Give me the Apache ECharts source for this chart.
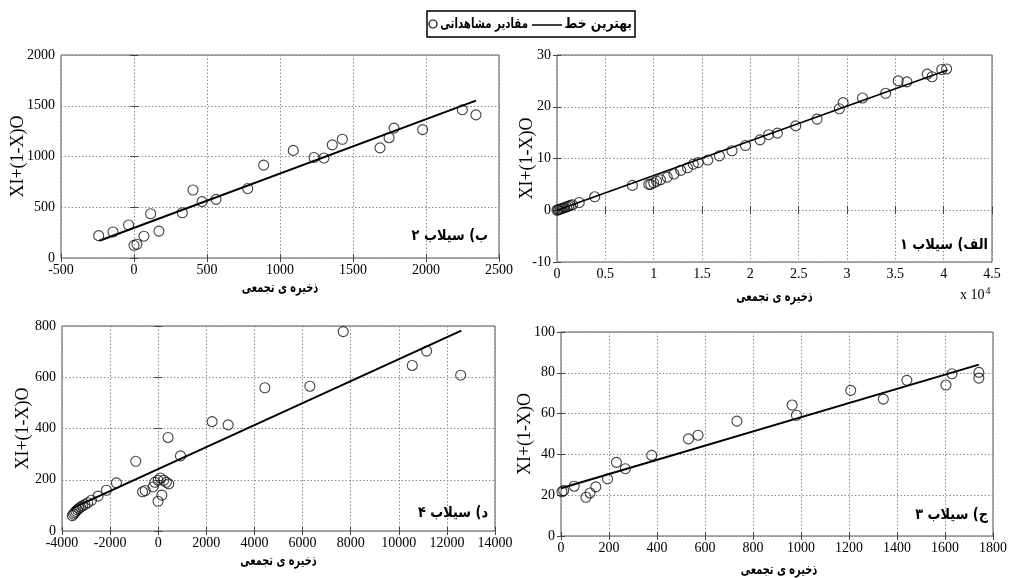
<!DOCTYPE html>
<html>
<head>
<meta charset="utf-8">
<script src="https://cdn.jsdelivr.net/npm/echarts@6/dist/echarts.min.js"></script>
<style>
  html, body { margin: 0; padding: 0; background: #fff; }
  #chart { width: 1010px; height: 578px; }
</style>
</head>
<body>
<div id="chart"></div>
<script>
// Flood 1 (x in units of 10^4)
const flood1X = [0.00, 0.01, 0.02, 0.035, 0.05, 0.065, 0.08, 0.10, 0.12, 0.14, 0.16, 0.23, 0.39, 0.78,
  0.95, 0.97, 1.00, 1.03, 1.07, 1.14, 1.21, 1.28, 1.35, 1.41, 1.46, 1.56, 1.68, 1.81, 1.95, 2.10,
  2.19, 2.28, 2.47, 2.69, 2.92, 2.96, 3.16, 3.40, 3.53, 3.62, 3.83, 3.88, 3.98, 4.03];
const flood1Y = [0.0, 0.1, 0.15, 0.25, 0.35, 0.4, 0.55, 0.65, 0.8, 0.95, 1.05, 1.5, 2.6, 4.8,
  5.0, 5.0, 5.3, 5.6, 5.9, 6.4, 7.0, 7.7, 8.2, 8.9, 9.2, 9.7, 10.5, 11.5, 12.5, 13.6,
  14.6, 14.9, 16.3, 17.6, 19.6, 20.8, 21.7, 22.6, 25.0, 24.8, 26.3, 25.8, 27.2, 27.3];
const flood1FitX = [0, 4.04];
const flood1FitY = [0.0, 27.1];

// Flood 2
const flood2X = [-242, -144, -37, 0, 20, 68, 114, 171, 331, 404, 466, 562, 779, 888, 1091, 1233,
  1301, 1358, 1427, 1685, 1747, 1781, 1977, 2249, 2342];
const flood2Y = [220, 256, 325, 125, 135, 215, 436, 265, 446, 670, 555, 578, 684, 915, 1060, 990,
  985, 1115, 1170, 1085, 1185, 1280, 1265, 1460, 1410];
const flood2FitX = [-237, 2342];
const flood2FitY = [170, 1551];

// Flood 3
const flood3X = [4, 11, 55, 104, 121, 145, 194, 231, 268, 378, 531, 571, 733, 963, 981, 1207,
  1343, 1441, 1604, 1629, 1741, 1741];
const flood3Y = [21.7, 22.3, 24.4, 19.0, 21.1, 24.1, 28.0, 36.1, 33.0, 39.5, 47.6, 49.4, 56.3,
  64.2, 59.2, 71.4, 67.1, 76.3, 74.0, 79.5, 80.2, 77.4];
const flood3FitX = [0, 1741];
const flood3FitY = [23.4, 84.0];

// Flood 4
const flood4X = [-3570, -3520, -3470, -3420, -3360, -3300, -3230, -3150, -3050, -2930, -2777,
  -2502, -2153, -1737, -934, -650, -540, -215, -144, -7, -7, 150, 93, 230, 340, 440, 409, 925,
  2240, 2906, 4432, 6304, 7691, 10561, 11157, 12572];
const flood4Y = [60, 66, 72, 77, 83, 88, 93, 98, 103, 110, 120, 136, 159, 188, 272, 153, 158,
  172, 190, 198, 116, 140, 207, 198, 190, 184, 365, 293, 427, 414, 559, 565, 778, 646, 702, 608];
const flood4FitX = [-3580, 12600];
const flood4FitY = [88, 782];

// Axis ranges: [xMin, xMax, xStep, yMin, yMax, yStep]
const rangeFlood2 = [-500, 2500, 500, 0, 2000, 500];
const rangeFlood1 = [0, 4.5, 0.5, -10, 30, 10];
const rangeFlood4 = [-4000, 14000, 2000, 0, 800, 200];
const rangeFlood3 = [0, 1800, 200, 0, 100, 20];

const xTitle = 'ذخیره ی تجمعی';
const yTitle = 'XI+(1-X)O';
const panelTitles = ['ب) سیلاب ۲', 'الف) سیلاب ۱', 'د) سیلاب ۴', 'ج) سیلاب ۳'];
const legendObserved = 'مقادیر مشاهداتی';
const legendFit = 'بهترین خط';

const zip = (xs, ys) => xs.map((x, i) => [x, ys[i]]);

const panels = [
  { grid: { left: 61, top: 55, width: 438, height: 203 }, range: rangeFlood2,
    pts: zip(flood2X, flood2Y), fit: zip(flood2FitX, flood2FitY), titleY: 288, yGap: 34, label: [488, 236] },
  { grid: { left: 557, top: 55, width: 435, height: 207 }, range: rangeFlood1,
    pts: zip(flood1X, flood1Y), fit: zip(flood1FitX, flood1FitY), titleY: 297, yGap: 21, label: [988, 245] },
  { grid: { left: 62, top: 326, width: 433, height: 205 }, range: rangeFlood4,
    pts: zip(flood4X, flood4Y), fit: zip(flood4FitX, flood4FitY), titleY: 561, yGap: 30, label: [488, 513] },
  { grid: { left: 561, top: 332, width: 436, height: 204 }, range: rangeFlood3,
    pts: zip(flood3X, flood3Y), fit: zip(flood3FitX, flood3FitY), titleY: 570, yGap: 27, label: [988, 515] }
];

const serif = 'Liberation Serif, Times New Roman, serif';
const persian = 'DejaVu Sans, Noto Sans, sans-serif';
const tickLabel = { color: '#000', fontFamily: serif, fontSize: 14, formatter: v => String(v) };

const grids = [], xAxes = [], yAxes = [], series = [];
const persianText = (text, x, y, size, sx, align) => ({
  type: 'text', x: x, y: y, scaleX: sx, z: 11,
  style: { text: text, fontFamily: persian, fontWeight: 'bold', fontSize: size, fill: '#000',
    align: align, verticalAlign: 'middle' }
});
const graphic = [];

panels.forEach((p, i) => {
  const [x0, x1, dx, y0, y1, dy] = p.range;
  grids.push(Object.assign({ show: true, borderColor: '#555', borderWidth: 1, backgroundColor: '#fff' }, p.grid));
  const common = { type: 'value', gridIndex: i, axisLine: { show: false } };
  const tick = { show: true, inside: true, length: 4, lineStyle: { color: '#444' } };
  const split = { show: true, lineStyle: { type: [1.5, 2], color: '#8c8c8c', width: 1 } };
  xAxes.push(Object.assign({}, common, {
    min: x0, max: x1, interval: dx, position: 'bottom',
    axisTick: tick, splitLine: split,
    axisLabel: Object.assign({ margin: 5 }, tickLabel)
  }));
  xAxes.push(Object.assign({}, common, {
    min: x0, max: x1, interval: dx, position: 'top',
    axisTick: tick, splitLine: { show: false }, axisLabel: { show: false }
  }));
  yAxes.push(Object.assign({}, common, {
    min: y0, max: y1, interval: dy, position: 'left',
    axisTick: tick, splitLine: split,
    axisLabel: Object.assign({ margin: 6 }, tickLabel),
    name: yTitle, nameLocation: 'middle', nameGap: p.yGap, nameRotate: 90,
    nameMoveOverlap: false,
    nameTextStyle: { fontFamily: serif, fontSize: 18, color: '#000' }
  }));
  yAxes.push(Object.assign({}, common, {
    min: y0, max: y1, interval: dy, position: 'right',
    axisTick: tick, splitLine: { show: false }, axisLabel: { show: false }
  }));
  series.push({
    type: 'scatter', name: legendObserved, xAxisIndex: 2 * i, yAxisIndex: 2 * i,
    data: p.pts, symbol: 'circle', symbolSize: 10,
    itemStyle: { color: 'rgba(0,0,0,0)', borderColor: '#111', borderWidth: 1.1 },
    z: 3
  });
  series.push({
    type: 'line', name: legendFit, xAxisIndex: 2 * i, yAxisIndex: 2 * i,
    data: p.fit, showSymbol: false, symbol: 'none',
    lineStyle: { color: '#000', width: i === 1 ? 1.6 : 2 },
    z: 4
  });
  // x axis title and panel caption
  graphic.push(persianText(xTitle, p.grid.left + p.grid.width / 2, p.titleY, 14, 0.7, 'center'));
  graphic.push(persianText(panelTitles[i], p.label[0], p.label[1], 15, 0.86, 'right'));
});

// legend box
graphic.push(
  { type: 'rect', shape: { x: 427, y: 11, width: 208, height: 26 },
    style: { fill: '#fff', stroke: '#000', lineWidth: 1.5 }, z: 10 },
  { type: 'circle', shape: { cx: 433, cy: 24, r: 4 },
    style: { fill: 'none', stroke: '#000', lineWidth: 1.2 }, z: 11 },
  persianText(legendObserved, 528, 24, 14, 0.73, 'right'),
  { type: 'line', shape: { x1: 532, y1: 25, x2: 562, y2: 25 },
    style: { stroke: '#000', lineWidth: 1.5 }, z: 11 },
  persianText(legendFit, 632, 24, 14, 0.88, 'right'),
  // exponent of the Flood 1 x axis
  { type: 'text', x: 960, y: 286, z: 11,
    style: { text: 'x 10{sup|4}', fontFamily: serif, fontSize: 14, fill: '#000',
      rich: { sup: { fontFamily: serif, fontSize: 10, verticalAlign: 'top', padding: [0, 0, 8, 1] } } } }
);

const chart = echarts.init(document.getElementById('chart'), null, { renderer: 'canvas' });
chart.setOption({
  animation: false,
  backgroundColor: '#fff',
  grid: grids,
  xAxis: xAxes,
  yAxis: yAxes,
  series: series,
  graphic: graphic
});
</script>
</body>
</html>
